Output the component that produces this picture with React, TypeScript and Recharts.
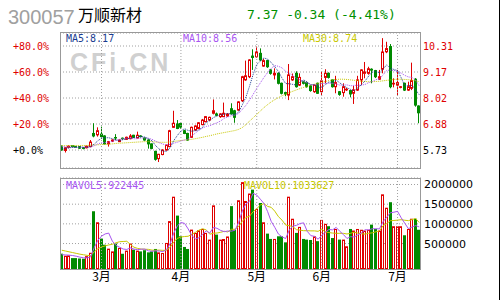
import React from 'react';
import { ComposedChart, Bar, Line, XAxis, YAxis, CartesianGrid, ReferenceLine } from 'recharts';

// daily candles
const opens = [
  5.90, 5.71, 5.85, 5.92, 5.89, 5.88, 5.83, 5.83, 5.88, 6.46,
  6.40, 6.43, 6.35, 6.00, 6.12, 6.28, 6.10, 6.25, 6.20, 6.23,
  6.38, 6.26, 6.35, 6.26, 6.17, 6.00, 5.67, 5.35, 5.53, 5.73,
  5.88, 6.73, 6.88, 6.90, 6.58, 6.46, 6.29, 6.61, 6.68, 6.85,
  6.98, 7.05, 7.35, 7.32, 7.20, 7.20, 7.23, 7.55, 7.46, 7.49,
  7.90, 8.82, 8.96, 9.87, 9.84, 9.99, 9.43, 9.67, 9.26, 9.04,
  9.11, 8.67, 8.26, 8.15, 8.82, 9.11, 8.59, 8.74, 8.70, 8.55,
  8.30, 8.67, 8.30, 8.93, 9.11, 8.82, 8.52, 8.30, 8.26, 8.38,
  8.35, 8.23, 8.37, 8.82, 9.11, 9.11, 9.29, 9.23, 8.85, 9.29,
  10.06, 10.29, 8.64, 8.59, 8.49, 8.67, 8.37, 8.45, 8.85, 7.67,
];
const highs = [
  5.93, 5.85, 5.95, 5.93, 5.91, 5.90, 5.85, 5.93, 6.17, 6.91,
  6.73, 6.76, 6.38, 6.13, 6.20, 6.43, 6.20, 6.28, 6.32, 6.43,
  6.40, 6.54, 6.38, 6.28, 6.20, 6.02, 5.70, 5.56, 5.76, 5.97,
  6.62, 7.46, 7.05, 6.93, 6.62, 6.49, 6.76, 6.82, 6.96, 7.10,
  7.23, 7.20, 7.96, 7.38, 7.35, 7.82, 7.35, 7.79, 7.50, 7.88,
  9.00, 9.67, 9.73, 10.17, 10.29, 10.21, 9.75, 9.70, 9.30, 9.33,
  9.15, 8.70, 8.30, 9.52, 9.10, 9.20, 9.11, 8.78, 8.75, 8.58,
  8.62, 8.70, 9.18, 9.29, 9.15, 8.85, 9.00, 8.33, 8.67, 8.47,
  8.38, 8.55, 9.00, 9.29, 9.61, 9.40, 9.33, 9.26, 9.26, 10.66,
  10.50, 10.40, 8.89, 9.26, 8.55, 8.70, 8.74, 9.58, 8.90, 7.70,
];
const lows = [
  5.70, 5.62, 5.80, 5.86, 5.84, 5.78, 5.76, 5.80, 5.85, 6.29,
  6.32, 6.23, 5.97, 5.88, 6.08, 6.17, 6.08, 6.18, 6.18, 6.20,
  6.26, 6.24, 6.28, 6.14, 5.79, 5.76, 5.26, 5.20, 5.50, 5.70,
  5.85, 6.70, 6.65, 6.66, 6.43, 6.14, 6.26, 6.58, 6.65, 6.82,
  6.95, 7.00, 7.30, 7.22, 7.15, 7.18, 7.20, 7.30, 6.93, 7.46,
  7.85, 8.78, 8.90, 9.26, 9.80, 9.65, 9.40, 9.35, 9.05, 8.84,
  8.62, 8.18, 8.10, 7.93, 8.78, 8.48, 8.55, 8.62, 8.48, 8.30,
  8.25, 8.20, 8.15, 8.67, 8.88, 8.48, 8.23, 8.12, 8.08, 8.33,
  8.05, 7.76, 8.33, 8.59, 8.89, 9.05, 8.67, 8.90, 8.82, 9.11,
  10.00, 8.45, 8.49, 8.15, 8.45, 8.33, 8.33, 8.37, 7.64, 6.91,
];
const closes = [
  5.73, 5.83, 5.90, 5.88, 5.86, 5.81, 5.80, 5.90, 6.08, 6.35,
  6.58, 6.32, 6.00, 6.10, 6.17, 6.26, 6.17, 6.23, 6.29, 6.35,
  6.29, 6.38, 6.32, 6.17, 6.00, 5.80, 5.32, 5.54, 5.73, 5.94,
  6.58, 6.91, 6.68, 6.74, 6.46, 6.17, 6.73, 6.79, 6.93, 7.05,
  7.20, 7.17, 7.46, 7.26, 7.32, 7.35, 7.32, 7.32, 7.17, 7.85,
  8.96, 9.00, 9.70, 9.81, 10.05, 9.70, 9.67, 9.40, 9.11, 9.11,
  8.67, 8.23, 8.20, 9.04, 8.96, 8.52, 8.93, 8.67, 8.52, 8.35,
  8.59, 8.23, 8.78, 9.11, 8.93, 8.52, 8.70, 8.18, 8.52, 8.41,
  8.20, 8.38, 8.82, 9.26, 9.17, 9.31, 9.25, 8.96, 8.96, 10.05,
  10.20, 8.52, 8.67, 8.70, 8.52, 8.37, 8.52, 8.79, 7.71, 7.37,
];
// volume in thousands of shares
const volK = [
  242, 190, 200, 130, 130, 120, 115, 180, 265, 1320,
  1040, 625, 470, 370, 300, 500, 390, 240, 320, 500,
  345, 320, 300, 330, 276, 300, 362, 276, 260, 515,
  1070, 1690, 1210, 684, 413, 362, 854, 770, 837, 870,
  770, 600, 1470, 727, 600, 615, 680, 1450, 850, 1600,
  2060, 1580, 1770, 1870, 1380, 1530, 1040, 752, 617, 617,
  684, 684, 530, 1690, 1130, 770, 923, 617, 600, 590,
  684, 560, 1100, 1000, 940, 640, 870, 600, 600, 430,
  870, 830, 870, 850, 830, 850, 980, 870, 830, 1750,
  1410, 1550, 940, 940, 940, 710, 870, 1130, 1130, 850,
];
const ma5 = [
  5.80, 5.80, 5.83, 5.84, 5.84, 5.86, 5.85, 5.85, 5.89, 5.99,
  6.14, 6.25, 6.27, 6.27, 6.23, 6.17, 6.14, 6.19, 6.22, 6.26,
  6.27, 6.31, 6.33, 6.30, 6.23, 6.13, 5.92, 5.77, 5.68, 5.67,
  5.82, 6.14, 6.37, 6.57, 6.67, 6.59, 6.56, 6.58, 6.62, 6.73,
  6.94, 7.03, 7.16, 7.23, 7.28, 7.31, 7.34, 7.31, 7.30, 7.40,
  7.72, 8.06, 8.54, 9.06, 9.50, 9.65, 9.79, 9.73, 9.59, 9.40,
  9.19, 8.90, 8.66, 8.65, 8.62, 8.59, 8.73, 8.82, 8.72, 8.60,
  8.61, 8.47, 8.49, 8.61, 8.73, 8.71, 8.81, 8.69, 8.57, 8.47,
  8.40, 8.34, 8.47, 8.61, 8.77, 8.99, 9.16, 9.19, 9.13, 9.31,
  9.48, 9.34, 9.28, 9.23, 8.92, 8.56, 8.56, 8.58, 8.38, 8.17,
];
const ma10 = [
  5.88, 5.87, 5.86, 5.85, 5.85, 5.85, 5.85, 5.85, 5.86, 5.92,
  6.00, 6.05, 6.06, 6.08, 6.11, 6.16, 6.20, 6.23, 6.25, 6.25,
  6.22, 6.23, 6.26, 6.26, 6.25, 6.20, 6.12, 6.05, 5.99, 5.95,
  5.98, 6.03, 6.07, 6.13, 6.17, 6.21, 6.35, 6.48, 6.60, 6.70,
  6.77, 6.80, 6.87, 6.93, 7.01, 7.13, 7.19, 7.24, 7.27, 7.34,
  7.52, 7.70, 7.93, 8.18, 8.45, 8.69, 8.93, 9.14, 9.33, 9.45,
  9.42, 9.35, 9.20, 9.12, 9.01, 8.89, 8.82, 8.74, 8.69, 8.61,
  8.60, 8.60, 8.66, 8.67, 8.67, 8.66, 8.64, 8.59, 8.59, 8.60,
  8.56, 8.58, 8.58, 8.59, 8.62, 8.70, 8.75, 8.83, 8.87, 9.04,
  9.24, 9.25, 9.24, 9.18, 9.12, 9.02, 8.95, 8.93, 8.81, 8.56,
];
const ma30 = [
  5.92, 5.92, 5.92, 5.92, 5.93, 5.93, 5.93, 5.93, 5.94, 5.95,
  5.96, 5.97, 5.98, 5.99, 6.00, 6.02, 6.03, 6.04, 6.05, 6.06,
  6.07, 6.08, 6.09, 6.10, 6.10, 6.10, 6.08, 6.07, 6.07, 6.07,
  6.09, 6.11, 6.13, 6.15, 6.17, 6.18, 6.20, 6.23, 6.26, 6.29,
  6.33, 6.36, 6.40, 6.44, 6.47, 6.50, 6.53, 6.56, 6.59, 6.64,
  6.72, 6.85, 7.00, 7.15, 7.30, 7.45, 7.60, 7.73, 7.85, 7.95,
  8.04, 8.12, 8.19, 8.26, 8.32, 8.38, 8.44, 8.49, 8.54, 8.59,
  8.63, 8.67, 8.71, 8.75, 8.79, 8.82, 8.84, 8.85, 8.85, 8.84,
  8.82, 8.80, 8.78, 8.76, 8.75, 8.74, 8.74, 8.75, 8.76, 8.78,
  8.80, 8.82, 8.84, 8.85, 8.85, 8.84, 8.83, 8.81, 8.78, 8.74,
];
const mavol5K = [
  217, 210, 205, 195, 178, 154, 139, 135, 162, 400,
  584, 686, 744, 765, 561, 453, 406, 360, 350, 390,
  359, 345, 357, 359, 314, 305, 314, 309, 295, 343,
  497, 762, 949, 1034, 1013, 872, 705, 617, 647, 739,
  820, 769, 909, 887, 833, 802, 818, 814, 839, 1039,
  1328, 1508, 1572, 1776, 1732, 1626, 1518, 1314, 1064, 911,
  742, 671, 626, 841, 944, 961, 1009, 1026, 808, 700,
  683, 610, 707, 787, 857, 848, 910, 810, 730, 628,
  674, 666, 720, 770, 850, 846, 876, 876, 872, 1056,
  1168, 1282, 1296, 1318, 1156, 1016, 880, 918, 956, 922.445,
];
const mavol10K = [
  330, 310, 290, 270, 250, 230, 215, 200, 190, 289,
  369, 413, 440, 464, 481, 519, 546, 552, 558, 476,
  406, 376, 359, 355, 352, 332, 330, 333, 327, 329,
  401, 538, 629, 665, 678, 685, 734, 783, 841, 876,
  846, 737, 763, 767, 786, 811, 794, 862, 863, 936,
  1065, 1163, 1193, 1308, 1386, 1477, 1513, 1443, 1420, 1322,
  1184, 1095, 970, 953, 928, 852, 840, 826, 825, 822,
  822, 810, 867, 798, 779, 766, 760, 759, 759, 743,
  761, 788, 765, 750, 739, 760, 771, 798, 821, 953,
  1007, 1079, 1086, 1095, 1106, 1092, 1081, 1107, 1137, 1033.627,
];

const monthTicks = [11, 33, 54, 72, 93];
const monthNames = ['3月', '4月', '5月', '6月', '7月'];
const pctSteps = [0, 20, 40, 60, 80];
const volTicks = [500000, 1000000, 1500000, 2000000];

const BASE = closes[0];
const PRICE_DOMAIN = [4.937, 10.887];
const VOL_DOMAIN = [-147000, 2165000];

const RED = '#e00000';
const GREEN = '#008a00';
const GRID = '#a0a0a0';
const MONO = '"DejaVu Sans Mono", monospace';

const rows = closes.map((c, i) => ({
  i,
  open: opens[i],
  high: highs[i],
  low: lows[i],
  close: c,
  vol: volK[i] * 1000,
  ma5: ma5[i],
  ma10: ma10[i],
  ma30: ma30[i],
  mavol5: mavol5K[i] * 1000,
  mavol10: mavol10K[i] * 1000,
}));
const priceTicks = pctSteps.map((p) => BASE * (1 + p / 100));

const last = rows.length - 1;
const chg = closes[last] - closes[last - 1];
const chgPct = (chg / closes[last - 1]) * 100;

function Candle(props: any) {
  const { x, y, height, payload } = props;
  const top = Math.min(y, y + height);
  const h = Math.abs(height);
  const { open, close, high, low } = payload;
  const k = high > low ? h / (high - low) : 0;
  const up = close >= open;
  const color = up ? RED : GREEN;
  const bTop = top + (high - Math.max(open, close)) * k;
  const bBot = top + (high - Math.min(open, close)) * k;
  const left = Math.round(x);
  const cx = left + 1.5;
  return (
    <g>
      <line x1={cx} x2={cx} y1={top} y2={top + h} stroke={color} strokeWidth={1} />
      {up ? (
        <rect x={left + 0.5} y={bTop} width={2} height={Math.max(bBot - bTop, 0.5)} fill="#fff" stroke={color} strokeWidth={1} />
      ) : (
        <rect x={left} y={bTop - 0.5} width={3} height={Math.max(bBot - bTop, 0) + 1} fill={color} />
      )}
    </g>
  );
}

function VolBar(props: any) {
  const { x, y, height, payload } = props;
  const top = Math.min(y, y + height);
  const h = Math.abs(height);
  const left = Math.round(x);
  if (payload.close >= payload.open) {
    return <rect x={left + 0.5} y={top + 0.5} width={2} height={h - 1} fill="#fff" stroke={RED} strokeWidth={1} />;
  }
  return <rect x={left} y={top} width={3} height={h} fill={GREEN} />;
}

function PctTick(props: any) {
  const { y, payload } = props;
  const pct = (payload.value / BASE - 1) * 100;
  return (
    <text x={13} y={y} dy={4} fill={pct > 0.01 ? RED : '#000'} fontFamily={MONO} fontSize={10}>
      {`+${pct.toFixed(1)}%`}
    </text>
  );
}

function PriceTick(props: any) {
  const { x, y, payload } = props;
  return (
    <text x={x} y={y} dy={4} fill={payload.value > BASE + 0.01 ? RED : '#000'} fontFamily={MONO} fontSize={10} textAnchor="start">
      {payload.value.toFixed(2)}
    </text>
  );
}

function VolTick(props: any) {
  const { x, y, payload } = props;
  return (
    <text x={x} y={y} dy={4} fill="#000" fontFamily='"DejaVu Sans", sans-serif' fontSize={11} textAnchor="start">
      {payload.value}
    </text>
  );
}

const abs = (left: number, top: number, extra: any = {}) => ({ position: 'absolute' as const, left, top, whiteSpace: 'nowrap' as const, ...extra });

export default function App() {
  return (
    <div style={{ position: 'absolute', left: 0, top: 0, width: 500, height: 300, background: '#fff', overflow: 'hidden' }}>
      <div style={abs(8, 7, { fontFamily: '"Liberation Sans", Arial, sans-serif', fontSize: 20, lineHeight: '20px', color: '#a0a0a0' })}>300057</div>
      <div style={abs(78, 6, { fontFamily: '"Noto Sans CJK SC", sans-serif', fontSize: 16, lineHeight: '16px', color: '#000' })}>万顺新材</div>
      <div style={abs(247, 8, { fontFamily: MONO, fontSize: 13, lineHeight: '13px', color: '#009000' })}>
        {`${closes[last].toFixed(2)} ${chg.toFixed(2)} (${chgPct.toFixed(2)}%)`}
      </div>

      <div style={abs(70, 50, { fontFamily: '"Liberation Sans", Arial, sans-serif', fontSize: 25, fontWeight: 'bold', letterSpacing: 3, color: '#d0d0d0', lineHeight: '25px' })}>CFi.CN</div>

      <div style={abs(0, 0)}>
        <ComposedChart width={500} height={170} data={rows} margin={{ top: 33, right: 0, bottom: 2, left: 0 }}>
          <CartesianGrid yAxisId="price" vertical={false} stroke={GRID} strokeDasharray="1 2" />
          <XAxis dataKey="i" hide ticks={monthTicks} />
          <YAxis yAxisId="pct" orientation="left" width={60} type="number" domain={PRICE_DOMAIN} ticks={priceTicks} interval={0} allowDataOverflow axisLine={false} tickLine={false} tick={<PctTick />} />
          <YAxis yAxisId="price" orientation="right" width={79} type="number" domain={PRICE_DOMAIN} ticks={priceTicks} interval={0} allowDataOverflow axisLine={false} tickLine={false} tickSize={0} tickMargin={2} tick={<PriceTick />} />
          {monthTicks.map((m) => (
            <ReferenceLine key={m} x={m} yAxisId="price" stroke={GRID} strokeDasharray="1 2" />
          ))}
          <Bar yAxisId="price" dataKey={(d: any) => [d.low, d.high]} shape={<Candle />} barSize={3} isAnimationActive={false} />
          <Line yAxisId="pct" dataKey="ma30" stroke="#c8c800" strokeDasharray="1 1" dot={false} isAnimationActive={false} />
          <Line yAxisId="pct" dataKey="ma10" stroke="#a855f0" strokeDasharray="1 1" dot={false} isAnimationActive={false} />
          <Line yAxisId="pct" dataKey="ma5" stroke="#1a3c90" strokeDasharray="1 1" dot={false} isAnimationActive={false} />
        </ComposedChart>
      </div>

      <div style={abs(0, 170)}>
        <ComposedChart width={500} height={130} data={rows} margin={{ top: 8, right: 0, bottom: 11, left: 60 }}>
          <CartesianGrid yAxisId="vol" vertical={false} stroke={GRID} strokeDasharray="1 2" />
          <XAxis
            dataKey="i"
            ticks={monthTicks}
            interval={0}
            height={20}
            axisLine={false}
            tickLine={false}
            tickSize={0}
            tickMargin={3}
            tickFormatter={(v: number) => monthNames[monthTicks.indexOf(v)]}
            tick={{ fontSize: 12, fill: '#000', fontFamily: '"Noto Sans CJK SC", sans-serif' }}
          />
          <YAxis yAxisId="vol" orientation="right" width={79} type="number" domain={VOL_DOMAIN} ticks={volTicks} interval={0} allowDataOverflow axisLine={false} tickLine={false} tickSize={0} tickMargin={3} tick={<VolTick />} />
          {monthTicks.map((m) => (
            <ReferenceLine key={m} x={m} yAxisId="vol" stroke={GRID} strokeDasharray="1 2" />
          ))}
          <Bar yAxisId="vol" dataKey={(d: any) => [VOL_DOMAIN[0], d.vol]} shape={<VolBar />} barSize={3} isAnimationActive={false} />
          <Line yAxisId="vol" dataKey="mavol10" stroke="#c8c800" dot={false} isAnimationActive={false} />
          <Line yAxisId="vol" dataKey="mavol5" stroke="#a855f0" dot={false} isAnimationActive={false} />
        </ComposedChart>
      </div>

      <div style={abs(60, 32, { width: 361, height: 137, border: '1px solid #999', boxSizing: 'border-box', pointerEvents: 'none' })} />
      <div style={abs(60, 178, { width: 361, height: 92, border: '1px solid #999', boxSizing: 'border-box', pointerEvents: 'none' })} />
      <div style={abs(499, 0, { width: 1, height: 300, background: '#000' })} />

      <div style={abs(66, 34, { fontFamily: MONO, fontSize: 10, lineHeight: '10px', color: '#1a3c90' })}>{`MA5:${ma5[last].toFixed(2)}`}</div>
      <div style={abs(183, 34, { fontFamily: MONO, fontSize: 10, lineHeight: '10px', color: '#a855f0' })}>{`MA10:${ma10[last].toFixed(2)}`}</div>
      <div style={abs(303, 34, { fontFamily: MONO, fontSize: 10, lineHeight: '10px', color: '#c8c800' })}>{`MA30:${ma30[last].toFixed(2)}`}</div>
      <div style={abs(66, 181, { fontFamily: MONO, fontSize: 10, lineHeight: '10px', color: '#a855f0' })}>{`MAVOL5:${Math.round(mavol5K[last] * 1000)}`}</div>
      <div style={abs(244, 181, { fontFamily: MONO, fontSize: 10, lineHeight: '10px', color: '#c8c800' })}>{`MAVOL10:${Math.round(mavol10K[last] * 1000)}`}</div>
    </div>
  );
}
